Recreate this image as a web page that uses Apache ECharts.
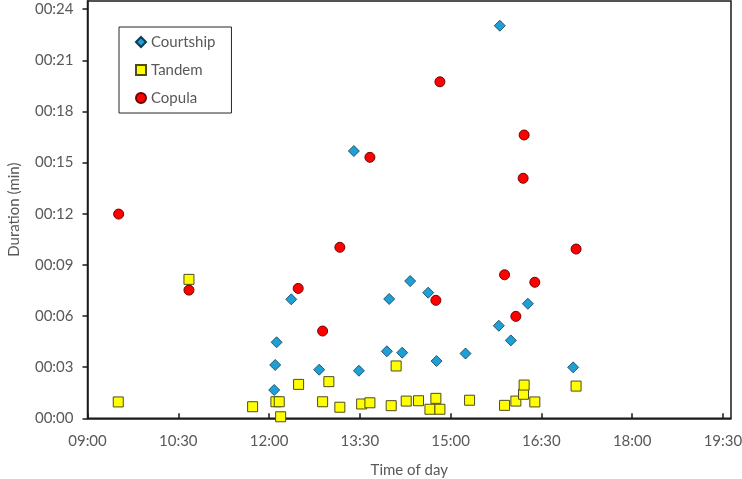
<!DOCTYPE html>
<html>
<head>
<meta charset="utf-8">
<script src="https://cdn.jsdelivr.net/npm/echarts@6/dist/echarts.min.js"></script>
<style>html,body{margin:0;padding:0;background:#fff}#c{width:742px;height:479px}</style>
</head>
<body>
<div id="c"></div>
<script>
// time of day in minutes after midnight, duration in minutes
var courtshipTime = [804.1, 742, 727.5, 726.1, 725.1, 839.1, 859.9, 877.8, 836.8, 852, 886.1, 769.7, 809.1, 914.8, 947.8, 976.6, 959.7, 1021.5, 948.8];
var courtshipDur  = [15.68, 6.98, 4.46, 3.13, 1.66, 7.0, 8.05, 7.37, 3.93, 3.85, 3.36, 2.85, 2.79, 3.80, 5.43, 6.72, 4.57, 2.99, 23.03];

var tandemTime = [570.5, 640.6, 703.7, 726.8, 730.1, 731.5, 749.3, 773.1, 779.3, 790.2, 811.8, 820, 841.1, 846, 856, 868.2, 885.4, 879.5, 889.4, 918.8, 953.5, 964.7, 972.3, 972.9, 983.5, 1024.4];
var tandemDur  = [0.96, 8.15, 0.68, 0.97, 0.97, 0.09, 1.99, 0.97, 2.15, 0.65, 0.84, 0.91, 0.74, 3.07, 1.01, 1.03, 1.17, 0.53, 0.53, 1.06, 0.76, 1.01, 1.41, 1.95, 0.96, 1.89];

var copulaTime = [570.9, 640.6, 748.9, 773.1, 790.2, 820, 885.4, 889.4, 953.5, 964.7, 972.9, 971.9, 983.5, 1024.4];
var copulaDur  = [11.98, 7.52, 7.62, 5.12, 10.03, 15.31, 6.92, 19.74, 8.42, 5.98, 16.62, 14.08, 7.98, 9.93];

var xTicks = [540, 630, 720, 810, 900, 990, 1080, 1170];
var yTicks = [0, 3, 6, 9, 12, 15, 18, 21, 24];

function pad(n){ n = Math.round(n); return (n < 10 ? '0' : '') + n; }
function fmtX(v){ return pad(Math.floor(v/60)) + ':' + pad(v % 60); }
function fmtY(v){ return '00:' + pad(v); }
function zip(a, b){ return a.map(function(v, i){ return [v, b[i]]; }); }

var FONT = 'Lato';
var TXT = '#595959';

var chart = echarts.init(document.getElementById('c'));
chart.setOption({
  animation: false,
  textStyle: { fontFamily: FONT },
  grid: { left: 87.5, right: 11, top: 1, bottom: 60.7, show: true, borderColor: '#1a1a1a', borderWidth: 1.5, containLabel: false, outerBoundsMode: 'none' },
  legend: {
    orient: 'vertical', left: 119, top: 27,
    padding: [6, 16, 6, 16],
    borderColor: '#262626', borderWidth: 1,
    itemWidth: 10, itemHeight: 10, itemGap: 10,
    textStyle: { fontFamily: FONT, fontSize: 15, color: TXT, lineHeight: 18 },
    data: ['Courtship', 'Tandem', 'Copula']
  },
  xAxis: {
    type: 'value', min: 540, max: 1178, interval: 90,
    name: 'Time of day', nameLocation: 'middle', nameGap: 44,
    nameTextStyle: { fontFamily: FONT, fontSize: 15, color: TXT },
    axisLine: { lineStyle: { color: '#1a1a1a', width: 1.5 } },
    axisTick: { inside: true, length: 5, lineStyle: { color: '#1a1a1a', width: 1.5 }, customValues: xTicks },
    axisLabel: { fontFamily: FONT, fontSize: 15, color: TXT, margin: 15, formatter: fmtX, customValues: xTicks },
    splitLine: { show: false }
  },
  yAxis: {
    type: 'value', min: 0, max: 24.48, interval: 3,
    name: 'Duration (min)', nameLocation: 'middle', nameGap: 66,
    nameTextStyle: { fontFamily: FONT, fontSize: 15, color: TXT },
    axisLine: { show: true, lineStyle: { color: '#1a1a1a', width: 1.5 } },
    axisTick: { show: true, length: 5, lineStyle: { color: '#1a1a1a', width: 1.5 }, customValues: yTicks },
    axisLabel: { fontFamily: FONT, fontSize: 15, color: TXT, margin: 14, formatter: fmtY, customValues: yTicks },
    splitLine: { show: false }
  },
  series: [
    { name: 'Courtship', type: 'scatter', symbol: 'diamond', symbolSize: 11,
      itemStyle: { color: '#1f9fd6', borderColor: '#0d3b50', borderWidth: 0.8, opacity: 1 },
      data: zip(courtshipTime, courtshipDur) },
    { name: 'Tandem', type: 'scatter', symbol: 'rect', symbolSize: 10,
      itemStyle: { color: '#ffff00', borderColor: '#4d4d1a', borderWidth: 1, opacity: 1 },
      data: zip(tandemTime, tandemDur) },
    { name: 'Copula', type: 'scatter', symbol: 'circle', symbolSize: 10,
      itemStyle: { color: '#ff0000', borderColor: '#700000', borderWidth: 1, opacity: 1 },
      data: zip(copulaTime, copulaDur) }
  ]
});
</script>
</body>
</html>
